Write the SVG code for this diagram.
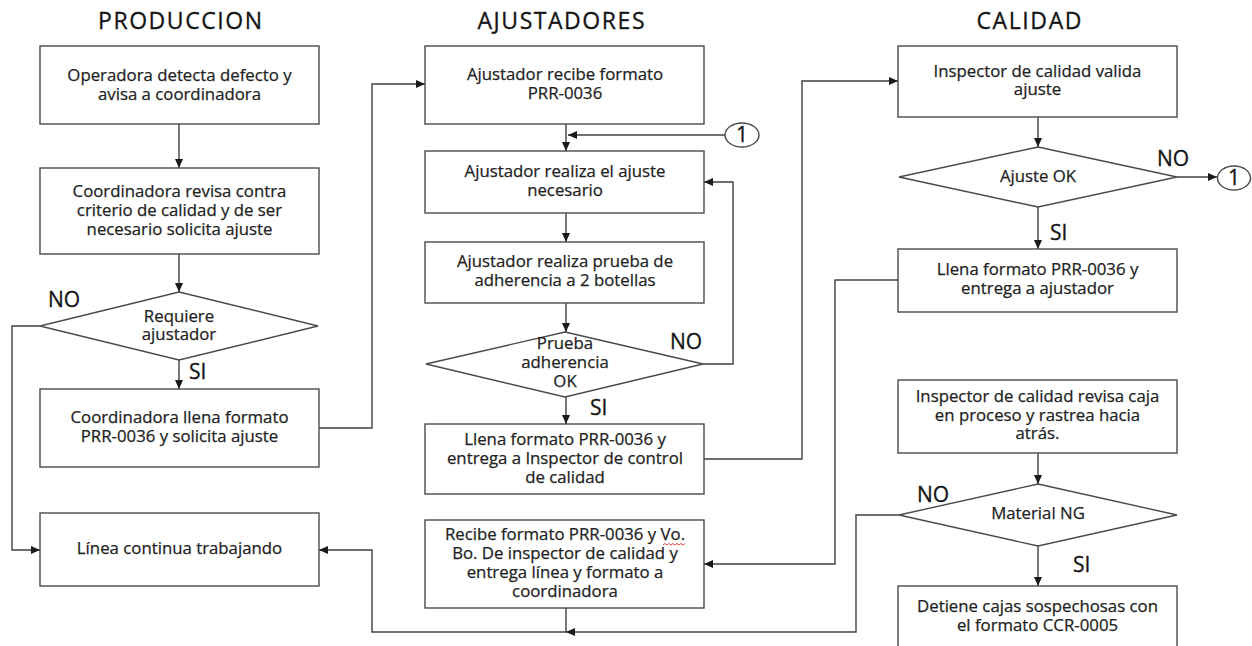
<svg xmlns="http://www.w3.org/2000/svg" width="1252" height="646" viewBox="0 0 1252 646">
<style>
  .box{fill:#fff;stroke:#4a4a4a;stroke-width:1.4}
  .t{font-family:"Open Sans","Noto Sans","Liberation Sans",sans-serif;font-size:16.8px;fill:#222;stroke:#222;stroke-width:0.25;text-anchor:middle}
  .h{font-family:"Open Sans","Noto Sans","Liberation Sans",sans-serif;font-size:23px;fill:#141414;stroke:#141414;stroke-width:0.3;text-anchor:middle}
  .lbl{font-family:"Open Sans","Noto Sans","Liberation Sans",sans-serif;font-size:21px;fill:#141414;stroke:#141414;stroke-width:0.3}
  .c{fill:none;stroke:#404040;stroke-width:1.4}
  .ca{fill:none;stroke:#404040;stroke-width:1.4;marker-end:url(#ah)}
</style>
<defs>
  <marker id="ah" markerUnits="userSpaceOnUse" markerWidth="9" markerHeight="8" refX="9" refY="4" orient="auto">
    <path d="M0,0 L9,4 L0,8 z" fill="#1a1a1a"/>
  </marker>
</defs>
<rect width="1252" height="646" fill="#fff"/>

<g id="titles">
  <text class="h" x="180" y="29" textLength="164" lengthAdjust="spacing">PRODUCCION</text>
  <text class="h" x="561" y="29" textLength="167" lengthAdjust="spacing">AJUSTADORES</text>
  <text class="h" x="1029" y="29" textLength="105" lengthAdjust="spacing">CALIDAD</text>
</g>

<g id="connectors">
  <path class="ca" d="M179,124 V168"/>
  <path class="ca" d="M179,254 V292"/>
  <path class="ca" d="M40,326 H12 V550 H40"/>
  <path class="ca" d="M179,360 V389"/>
  <path class="ca" d="M319,428 H372 V84 H425"/>
  <path class="ca" d="M566,124 V151"/>
  <path class="ca" d="M725,135 H568"/>
  <path class="ca" d="M566,213 V242"/>
  <path class="ca" d="M566,303 V332"/>
  <path class="ca" d="M703,364 H733 V182 H704"/>
  <path class="ca" d="M566,397 V424"/>
  <path class="ca" d="M704,459 H802 V81 H898"/>
  <path class="ca" d="M1038,117 V147"/>
  <path class="ca" d="M1177,177 H1217"/>
  <path class="ca" d="M1038,207 V249"/>
  <path class="ca" d="M898,280 H835 V564 H704"/>
  <path class="ca" d="M1038,453 V484"/>
  <path class="ca" d="M1038,546 V586"/>
  <path class="ca" d="M899,515 H856 V632 H566"/>
  <path class="c" d="M566,608 V632"/>
  <path class="ca" d="M566,632 H372 V550 H319"/>
</g>

<g id="p1"><rect class="box" x="40" y="46" width="279" height="78"/>
  <text class="t" x="179.5" y="81">Operadora detecta defecto y</text>
  <text class="t" x="179.5" y="100">avisa a coordinadora</text></g>
<g id="p2"><rect class="box" x="40" y="168" width="279" height="86"/>
  <text class="t" x="179.5" y="197">Coordinadora revisa contra</text>
  <text class="t" x="179.5" y="216">criterio de calidad y de ser</text>
  <text class="t" x="179.5" y="235">necesario solicita ajuste</text></g>
<g id="p3"><path class="box" d="M179,292 L318,326 L179,360 L40,326 Z"/>
  <text class="t" x="179" y="322">Requiere</text>
  <text class="t" x="179" y="340">ajustador</text>
  <text class="lbl" x="48" y="307">NO</text>
  <text class="lbl" x="189" y="379">SI</text></g>
<g id="p4"><rect class="box" x="40" y="389" width="279" height="78"/>
  <text class="t" x="179.5" y="423">Coordinadora llena formato</text>
  <text class="t" x="179.5" y="442">PRR-0036 y solicita ajuste</text></g>
<g id="p5"><rect class="box" x="40" y="513" width="279" height="73"/>
  <text class="t" x="179.5" y="554">Línea continua trabajando</text></g>

<g id="a1"><rect class="box" x="425" y="46" width="279" height="78"/>
  <text class="t" x="565" y="80">Ajustador recibe formato</text>
  <text class="t" x="565" y="99">PRR-0036</text></g>
<g id="c1a"><ellipse class="box" cx="742" cy="135" rx="17" ry="12"/>
  <text class="lbl" x="742" y="142" text-anchor="middle">1</text></g>
<g id="a2"><rect class="box" x="425" y="151" width="279" height="62"/>
  <text class="t" x="565" y="177">Ajustador realiza el ajuste</text>
  <text class="t" x="565" y="196">necesario</text></g>
<g id="a3"><rect class="box" x="425" y="242" width="279" height="61"/>
  <text class="t" x="565" y="267">Ajustador realiza prueba de</text>
  <text class="t" x="565" y="286">adherencia a 2 botellas</text></g>
<g id="a4"><path class="box" d="M565,332 L703,364 L565,397 L426,364 Z"/>
  <text class="t" x="565" y="349">Prueba</text>
  <text class="t" x="565" y="368">adherencia</text>
  <text class="t" x="565" y="387">OK</text>
  <text class="lbl" x="670" y="349">NO</text>
  <text class="lbl" x="590" y="415">SI</text></g>
<g id="a5"><rect class="box" x="425" y="424" width="279" height="70"/>
  <text class="t" x="565" y="445">Llena formato PRR-0036 y</text>
  <text class="t" x="565" y="464">entrega a Inspector de control</text>
  <text class="t" x="565" y="483">de calidad</text></g>
<g id="a6"><rect class="box" x="425" y="520" width="279" height="88"/>
  <text class="t" x="565" y="540">Recibe formato PRR-0036 y Vo.</text>
  <text class="t" x="565" y="559">Bo. De inspector de calidad y</text>
  <text class="t" x="565" y="578">entrega línea y formato a</text>
  <text class="t" x="565" y="597">coordinadora</text>
  <path d="M663,545 l2,-1.5 l2,1.5 l2,-1.5 l2,1.5 l2,-1.5 l2,1.5 l2,-1.5 l2,1.5 l2,-1.5 l2,1.5 l2,-1.5" fill="none" stroke="#e03030" stroke-width="0.9"/></g>

<g id="q1"><rect class="box" x="898" y="46" width="279" height="71"/>
  <text class="t" x="1037.5" y="77">Inspector de calidad valida</text>
  <text class="t" x="1037.5" y="95">ajuste</text></g>
<g id="q2"><path class="box" d="M1038,147 L1177,177 L1038,207 L899,177 Z"/>
  <text class="t" x="1038" y="182">Ajuste OK</text>
  <text class="lbl" x="1157" y="166">NO</text>
  <text class="lbl" x="1050" y="240">SI</text></g>
<g id="c1b"><ellipse class="box" cx="1234" cy="178" rx="16.5" ry="12"/>
  <text class="lbl" x="1234" y="185" text-anchor="middle">1</text></g>
<g id="q3"><rect class="box" x="898" y="249" width="279" height="63"/>
  <text class="t" x="1037.5" y="275">Llena formato PRR-0036 y</text>
  <text class="t" x="1037.5" y="294">entrega a ajustador</text></g>
<g id="q4"><rect class="box" x="898" y="380" width="279" height="73"/>
  <text class="t" x="1037.5" y="402">Inspector de calidad revisa caja</text>
  <text class="t" x="1037.5" y="421">en proceso y rastrea hacia</text>
  <text class="t" x="1037.5" y="439">atrás.</text></g>
<g id="q5"><path class="box" d="M1038,484 L1177,515 L1038,546 L899,515 Z"/>
  <text class="t" x="1038" y="519">Material NG</text>
  <text class="lbl" x="917" y="502">NO</text>
  <text class="lbl" x="1073" y="572">SI</text></g>
<g id="q6"><rect class="box" x="898" y="586" width="279" height="80"/>
  <text class="t" x="1037.5" y="612">Detiene cajas sospechosas con</text>
  <text class="t" x="1037.5" y="631">el formato CCR-0005</text></g>
</svg>
